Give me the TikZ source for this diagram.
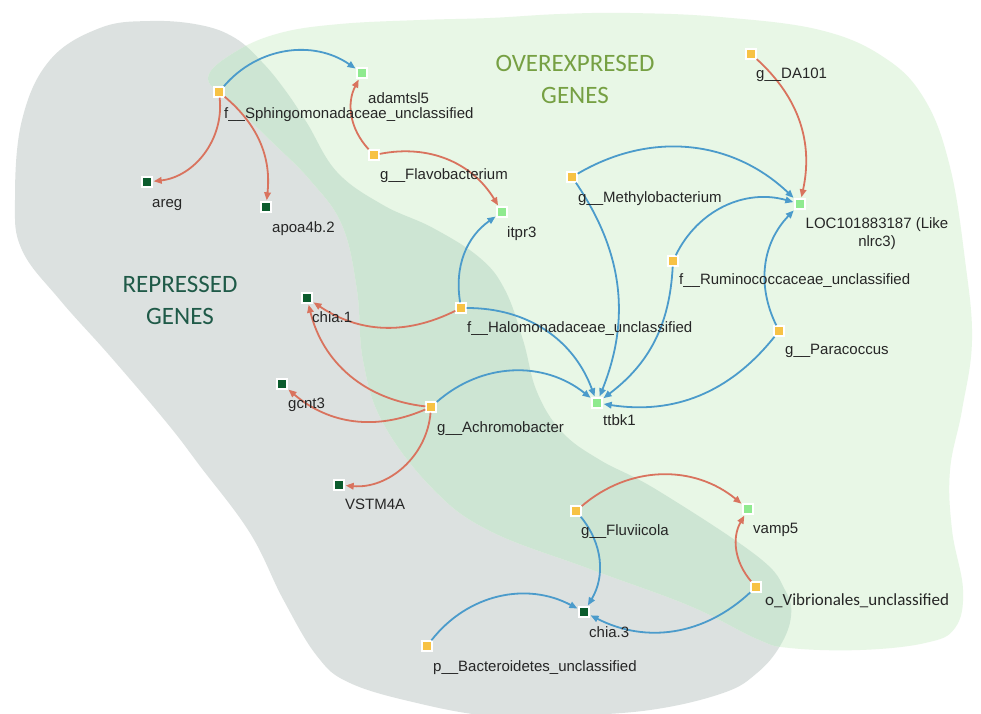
\documentclass[tikz,border=0pt]{standalone}
\usepackage{fontspec}
\setmainfont{Liberation Sans}
\newfontfamily\calfont{Carlito}
\usetikzlibrary{arrows.meta}
\definecolor{graybg}{HTML}{DCE1E0}
\definecolor{greenbg}{HTML}{E8F7E6}
\definecolor{overlapbg}{HTML}{CDE5D3}
\definecolor{sqyellow}{HTML}{F7C244}
\definecolor{sqlight}{HTML}{8FEA8F}
\definecolor{sqdark}{HTML}{0B5C2D}
\definecolor{redge}{HTML}{D9735E}
\definecolor{bedge}{HTML}{4B9BCB}
\definecolor{labc}{HTML}{262626}
\definecolor{overc}{HTML}{76A043}
\definecolor{repc}{HTML}{1F5A48}
\begin{document}
\begin{tikzpicture}[x=1pt,y=-1pt,
  sq/.style={rectangle, minimum size=10pt, inner sep=0pt, draw=white, line width=1.4pt, outer sep=0.7pt},
  bac/.style={sq, fill=sqyellow},
  upg/.style={sq, fill=sqlight},
  dng/.style={sq, fill=sqdark},
  lab/.style={anchor=base west, inner sep=0pt, text=labc, font=\fontsize{15}{18}\selectfont},
  negedge/.style={draw=redge, line width=1.8pt, -{Triangle[length=8pt,width=6.5pt]}, shorten >=1pt},
  posedge/.style={draw=bedge, line width=1.8pt, -{Triangle[length=8pt,width=6.5pt]}, shorten >=1pt},
  head/.style={font=\calfont\fontsize{25}{31.5}\selectfont, align=center, anchor=north, inner sep=0pt}
]
\useasboundingbox (0,0) rectangle (981,713);
\fill[white] (0,0) rectangle (981,713);

% blobs
\def\graypath{plot[smooth cycle, tension=0.65] coordinates {(15,200) (22,120) (50,60) (100,28) (150,21) (200,25) (235,38) (262,62) (285,90) (307,123) (337,172) (383,205) (433,228) (480,258) (505,290) (523,340) (537,392) (562,432) (600,460) (657,490) (757,556) (785,590) (791,616) (780,646) (757,673) (723,693) (650,710) (560,716) (490,716) (417,703) (350,683) (317,656) (283,599) (250,533) (200,466) (167,423) (110,356) (60,300) (22,250)}}
\def\greenpath{plot[smooth cycle, tension=0.65] coordinates {(208,78) (235,52) (280,33) (340,24) (420,20) (490,18) (560,14) (630,13) (720,17) (820,30) (885,58) (925,100) (950,167) (965,260) (972,340) (962,410) (950,470) (952,530) (963,590) (955,628) (925,643) (860,650) (790,648) (757,639) (690,606) (590,569) (490,531) (433,489) (383,423) (363,360) (357,290) (342,225) (310,180) (270,140) (232,103)}}
\fill[graybg] \graypath;
\fill[greenbg] \greenpath;
\begin{scope}
  \clip \graypath;
  \fill[overlapbg] \greenpath;
\end{scope}

% headings
\node[head, text=overc] (hover) at (575,55.5) {OVEREXPRESED\\GENES};
\node[head, text=repc] (hrep) at (180,276.5) {REPRESSED\\GENES};

% squares
\node[bac] (sph) at (219,92) {};
\node[upg] (ada) at (362,73) {};
\node[dng] (areg) at (147,182) {};
\node[dng] (apo) at (266,207) {};
\node[bac] (fla) at (374,155) {};
\node[upg] (itp) at (502,212) {};
\node[bac] (da) at (751,54) {};
\node[bac] (met) at (572,177) {};
\node[upg] (loc) at (800,204) {};
\node[bac] (rum) at (673,261) {};
\node[bac] (par) at (779,331) {};
\node[bac] (hal) at (461,308) {};
\node[dng] (chia1) at (307,298) {};
\node[dng] (gcn) at (282,384) {};
\node[bac] (ach) at (431,407) {};
\node[upg] (ttb) at (597,403) {};
\node[dng] (vst) at (339,485) {};
\node[bac] (flu) at (576,511) {};
\node[upg] (vam) at (748,509) {};
\node[bac] (vib) at (756,587) {};
\node[dng] (chia3) at (584,612) {};
\node[bac] (bact) at (427,646) {};

% edges
\draw[negedge] (sph) to[bend left=45] (areg);
\draw[negedge] (sph) to[bend left=28] (apo);
\draw[posedge] (sph) to[bend left=42] (ada);
\draw[negedge] (fla) to[bend left=35] (ada);
\draw[negedge] (fla) to[bend left=35] (itp);
\draw[posedge] (hal) to[bend left=32] (itp);
\draw[posedge] (hal) to[bend left=35] (ttb);
\draw[negedge] (hal) to[bend left=30] (chia1);
\draw[negedge] (ach) to[bend left=35] (chia1);
\draw[negedge] (ach) to[bend left=32] (gcn);
\draw[negedge] (ach) to[bend left=45] (vst);
\draw[posedge] (ach) to[bend left=40] (ttb);
\draw[posedge] (met) to[bend left=37] (loc);
\draw[posedge] (met) to[bend left=28] (ttb);
\draw[posedge] (rum) to[bend left=40] (loc);
\draw[posedge] (rum) to[bend left=25] (ttb);
\draw[posedge] (par) to[bend left=35] (loc);
\draw[posedge] (par) to[bend left=30] (ttb);
\draw[negedge] (da) to[bend left=30] (loc);
\draw[negedge] (flu) to[bend left=40] (vam);
\draw[posedge] (flu) to[bend left=35] (chia3);
\draw[negedge] (vib) to[bend left=35] (vam);
\draw[posedge] (vib) to[bend left=35] (chia3);
\draw[posedge] (bact) to[bend left=40] (chia3);

% labels
\node[lab] (tsph) at (224,118) {f\_\_Sphingomonadaceae\_unclassified};
\node[lab] (tada) at (368,103) {adamtsl5};
\node[lab] (tareg) at (152,207) {areg};
\node[lab] (tapo) at (272,232) {apoa4b.2};
\node[lab] (tfla) at (380,179) {g\_\_Flavobacterium};
\node[lab] (titp) at (507,237) {itpr3};
\node[lab] (tda) at (756,78) {g\_\_DA101};
\node[lab] (tmet) at (578,202) {g\_\_Methylobacterium};
\node[anchor=north, inner sep=0pt, text=labc, align=center, font=\fontsize{15}{18.5}\selectfont] (tloc) at (877,217) {LOC101883187 (Like\\nlrc3)};
\node[lab] (trum) at (679,284) {f\_\_Ruminococcaceae\_unclassified};
\node[lab] (tpar) at (785,354) {g\_\_Paracoccus};
\node[lab] (thal) at (467,332) {f\_\_Halomonadaceae\_unclassified};
\node[lab] (tchia1) at (312,322) {chia.1};
\node[lab] (tgcn) at (288,408) {gcnt3};
\node[lab] (tach) at (437,432) {g\_\_Achromobacter};
\node[lab] (tttb) at (603,425) {ttbk1};
\node[lab] (tvst) at (345,509) {VSTM4A};
\node[lab] (tflu) at (581,535) {g\_\_Fluviicola};
\node[lab] (tvam) at (753,533) {vamp5};
\node[lab, font=\calfont\fontsize{17}{20}\selectfont] (tvib) at (765,605) {o\_Vibrionales\_unclassified};
\node[lab] (tchia3) at (589,637) {chia.3};
\node[lab] (tbact) at (433,671) {p\_\_Bacteroidetes\_unclassified};
\end{tikzpicture}
\end{document}
